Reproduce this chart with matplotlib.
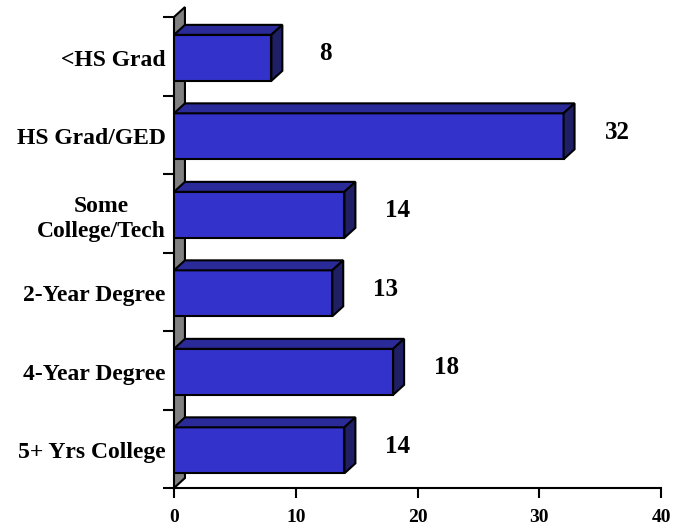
import matplotlib
import matplotlib.pyplot as plt
from matplotlib.patches import Polygon

matplotlib.use('Agg')

# --- data ---
categories = ['<HS Grad', 'HS Grad/GED', 'Some\nCollege/Tech', '2-Year Degree',
              '4-Year Degree', '5+ Yrs College']
values = [8, 32, 14, 13, 18, 14]
x_ticks = [0, 10, 20, 30, 40]

# --- style ---
FRONT = '#3333CC'
TOP = '#2A2A99'
SIDE = '#1F1F66'
WALL = '#808080'
FONT = 'Liberation Serif'
BAR_H = 0.586
DX, DY = 0.9, 0.127   # 3D depth in data units (right, up)

plt.rcParams['font.family'] = FONT
plt.rcParams['font.weight'] = 'bold'

fig = plt.figure(figsize=(6.77, 5.3), dpi=100)
ax = fig.add_axes([174 / 677, 42 / 530, 487 / 677, 471 / 530])

n = len(categories)
pos = [i + 0.02 for i in range(n)]
ax.set_xlim(0, 40)
ax.set_ylim(n - 0.5, -0.5)

# back wall
wall = Polygon([(0, n - 0.5), (0, -0.5), (DX, -0.5 - DY), (DX, n - 0.5 - DY)],
               closed=True, facecolor=WALL, edgecolor='black', lw=1.5,
               clip_on=False, zorder=1)
ax.add_patch(wall)

# bars with top and side faces
ax.barh(pos, values, height=BAR_H, color=FRONT, edgecolor='black', lw=1.5, zorder=3)
for p, v in zip(pos, values):
    yt = p - BAR_H / 2
    yb = p + BAR_H / 2
    top = Polygon([(0, yt), (v, yt), (v + DX, yt - DY), (DX, yt - DY)],
                  closed=True, facecolor=TOP, edgecolor='black', lw=1.5,
                  clip_on=False, zorder=3)
    side = Polygon([(v, yt), (v, yb), (v + DX, yb - DY), (v + DX, yt - DY)],
                   closed=True, facecolor=SIDE, edgecolor='black', lw=1.5,
                   clip_on=False, zorder=3)
    ax.add_patch(top)
    ax.add_patch(side)
    ax.text(v + 4.4, p - 0.05, str(v), ha='center', va='center',
            fontsize=18, fontweight='bold', zorder=4)

# axes styling
for s in ['top', 'right', 'left']:
    ax.spines[s].set_visible(False)
ax.spines['bottom'].set_linewidth(1.5)
ax.spines['bottom'].set_zorder(5)

ax.set_xticks(x_ticks)
ax.set_xticklabels([str(t) for t in x_ticks], fontsize=14, fontweight='bold')
ax.tick_params(axis='x', direction='out', length=7, width=1.5, pad=8)

ax.set_yticks([i - 0.5 for i in range(n + 1)])
ax.set_yticklabels([])
ax.tick_params(axis='y', which='major', direction='out', length=8, width=1.5)
ax.set_yticks(pos, categories, minor=True)
ax.tick_params(axis='y', which='minor', length=0, pad=6)
for lab in ax.get_yticklabels(minor=True):
    lab.set_fontsize(17)
    lab.set_fontweight('bold')
    lab.set_multialignment('center')

fig.savefig('out.png', dpi=100)
plt.close(fig)
